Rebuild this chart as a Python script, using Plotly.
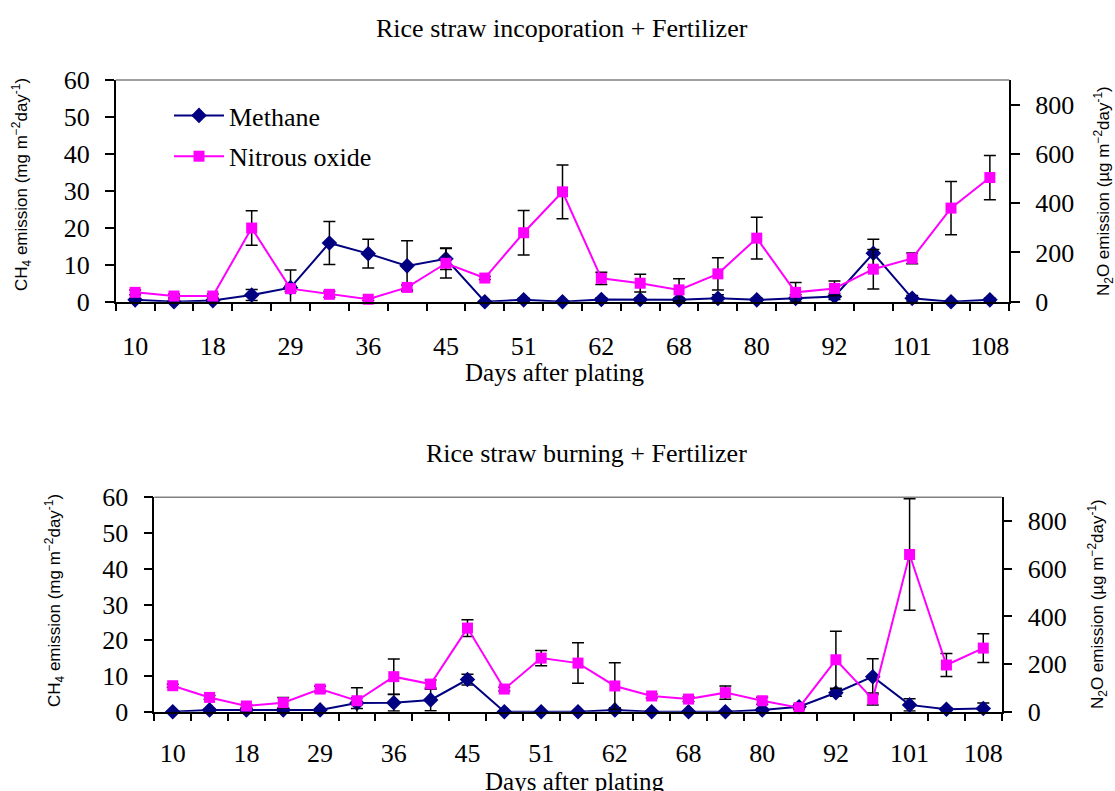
import plotly.graph_objects as go

# Sampling dates (days after planting); every other sampling is labelled on the axis
day_labels = ["10", "", "18", "", "29", "", "36", "", "45", "", "51", "",
              "62", "", "68", "", "80", "", "92", "", "101", "", "108"]

# Rice straw incorporation + fertilizer
inc_ch4 = [0.5, 0.0, 0.3, 1.8, 3.8, 15.9, 13.0, 9.7, 11.6, 0.0, 0.5, 0.0,
           0.6, 0.6, 0.5, 0.9, 0.5, 0.9, 1.4, 13.1, 0.9, 0.0, 0.5]
inc_ch4_err = [0.3, 0.2, 0.3, 1.5, 4.8, 5.8, 3.9, 6.8, 2.9, 0.2, 0.4, 0.2,
               0.4, 0.4, 0.4, 1.0, 0.4, 1.0, 0.8, 3.8, 0.8, 0.2, 0.4]
inc_n2o = [38, 23, 23, 299, 53, 30, 10, 58, 156, 96, 280, 446,
           95, 75, 48, 113, 258, 38, 54, 132, 176, 380, 504]
inc_n2o_err = [10, 8, 8, 70, 12, 12, 5, 10, 60, 6, 90, 109,
               25, 36, 45, 65, 85, 40, 30, 80, 22, 108, 90]

# Rice straw burning + fertilizer
burn_ch4 = [0.0, 0.5, 0.5, 0.5, 0.5, 2.4, 2.5, 3.3, 9.0, 0.0, 0.0, 0.0,
            0.5, 0.0, 0.0, 0.0, 0.5, 1.4, 5.3, 9.8, 1.9, 0.7, 0.9]
burn_ch4_err = [0.1, 0.3, 0.2, 0.3, 0.2, 1.5, 2.3, 3.0, 1.5, 0.1, 0.1, 0.1,
                0.6, 0.1, 0.1, 0.1, 0.4, 0.6, 1.0, 5.0, 1.7, 0.4, 1.5]
burn_n2o = [109, 60, 24, 38, 95, 46, 147, 116, 351, 95, 225, 204,
            108, 66, 53, 80, 46, 17, 218, 53, 660, 196, 267]
burn_n2o_err = [6, 8, 6, 22, 12, 55, 74, 17, 35, 8, 32, 85,
                98, 8, 10, 28, 15, 8, 120, 25, 234, 48, 60]

ch4_ticks = [0, 10, 20, 30, 40, 50, 60]
n2o_ticks = [0, 200, 400, 600, 800]

W, H = 1115, 791
x = list(range(len(day_labels)))
label_pos = [i for i, d in enumerate(day_labels) if d]
label_txt = [d for d in day_labels if d]
boundaries = [i - 0.5 for i in range(len(day_labels) + 1)]

SERIF = "Liberation Serif, Times New Roman, serif"
SANS = "Liberation Sans, Arial, sans-serif"
NAVY = "#000080"
MAGENTA = "#FF00FF"


def px(v):
    return v / W


def py(v):
    return 1 - v / H


def err(arr):
    return dict(type="data", array=arr, visible=True, color="black",
                thickness=1.5, width=6)


fig = go.Figure()

panels = [
    (inc_ch4, inc_ch4_err, inc_n2o, inc_n2o_err, "x", "y", "y2", True),
    (burn_ch4, burn_ch4_err, burn_n2o, burn_n2o_err, "x2", "y3", "y4", False),
]
for ch4, ch4e, n2o, n2oe, xa, ya, ya2, legend in panels:
    fig.add_trace(go.Scatter(
        x=x, y=ch4, error_y=err(ch4e), xaxis=xa, yaxis=ya,
        mode="lines+markers", name="Methane", showlegend=legend,
        legendgroup="ch4",
        line=dict(color=NAVY, width=2),
        marker=dict(symbol="diamond", size=12, color=NAVY),
        cliponaxis=False))
    fig.add_trace(go.Scatter(
        x=x, y=n2o, error_y=err(n2oe), xaxis=xa, yaxis=ya2,
        mode="lines+markers", name="Nitrous oxide", showlegend=legend,
        legendgroup="n2o",
        line=dict(color=MAGENTA, width=2),
        marker=dict(symbol="square", size=11, color=MAGENTA),
        cliponaxis=False))

tickfont = dict(family=SERIF, size=26, color="black")


def xaxis_cfg(domain, anchor, standoff):
    return dict(domain=domain, anchor=anchor, range=[-0.5, len(day_labels) - 0.5],
                tickmode="array", tickvals=label_pos, ticktext=label_txt,
                ticks="", ticklabelstandoff=standoff, tickfont=tickfont,
                minor=dict(tickmode="array", tickvals=boundaries, ticks="outside",
                           ticklen=8, tickwidth=1.5, tickcolor="black"),
                showline=True, linecolor="black", linewidth=1.5,
                showgrid=False, zeroline=False, automargin=False, fixedrange=True)


def left_cfg(domain, anchor):
    return dict(domain=domain, anchor=anchor, range=[0, 60],
                tickmode="array", tickvals=ch4_ticks, ticks="outside", ticklen=9,
                tickwidth=1.5, tickcolor="black", ticklabelstandoff=10,
                tickfont=tickfont, showline=True, linecolor="black", linewidth=1.5,
                showgrid=False, zeroline=False, automargin=False)


def right_cfg(anchor, over):
    return dict(anchor=anchor, overlaying=over, side="right", range=[0, 900],
                tickmode="array", tickvals=n2o_ticks, ticks="outside", ticklen=9,
                tickwidth=1.5, tickcolor="black", ticklabelstandoff=10,
                tickfont=tickfont, showline=True, linecolor="black", linewidth=1.5,
                showgrid=False, zeroline=False, automargin=False)


def right_inner_cfg(anchor, over):
    return dict(anchor=anchor, overlaying=over, side="right", range=[0, 900],
                tickmode="array", tickvals=n2o_ticks, ticks="inside", ticklen=9,
                tickwidth=1.5, tickcolor="black", showticklabels=False,
                showline=False, showgrid=False, zeroline=False, automargin=False)


top_x = [px(115.7), px(1009.3)]
top_y = [py(301.7), py(80)]
bot_x = [px(154.3), px(1001.7)]
bot_y = [py(711.7), py(497.3)]

fig.update_layout(
    width=W, height=H, margin=dict(l=0, r=0, t=0, b=0),
    paper_bgcolor="white", plot_bgcolor="white",
    xaxis=xaxis_cfg(top_x, "y", 20),
    yaxis=left_cfg(top_y, "x"),
    yaxis2=right_cfg("x", "y"),
    yaxis5=right_inner_cfg("x", "y"),
    xaxis2=xaxis_cfg(bot_x, "y3", 17),
    yaxis3=left_cfg(bot_y, "x2"),
    yaxis4=right_cfg("x2", "y3"),
    yaxis6=right_inner_cfg("x2", "y3"),
    legend=dict(x=px(169), y=py(92), xanchor="left", yanchor="top",
                font=dict(family=SERIF, size=26, color="black"),
                bgcolor="rgba(0,0,0,0)", itemwidth=50, tracegroupgap=4),
    showlegend=True,
)

# grey top border of each plot area
for xr, yr in [("x domain", "y domain"), ("x2 domain", "y3 domain")]:
    fig.add_shape(type="line", xref=xr, yref=yr, x0=0, x1=1, y0=1, y1=1,
                  line=dict(color="#808080", width=1.5))

ch4_title = "CH<sub>4</sub> emission (mg m<sup>\u22122</sup>day<sup>-1</sup>)"
n2o_title = "N<sub>2</sub>O emission (\u00b5g m<sup>\u22122</sup>day<sup>-1</sup>)"

texts = [
    ("Rice straw incoporation + Fertilizer", 562, 29, SERIF, 26, 0),
    ("Days after plating", 555, 373, SERIF, 25, 0),
    ("Rice straw burning + Fertilizer", 586, 453, SERIF, 26, 0),
    ("Days after plating", 575, 781, SERIF, 25, 0),
    (ch4_title, 22, 185, SANS, 17, -90),
    (n2o_title, 1103, 191, SANS, 17, -90),
    (ch4_title, 54, 601, SANS, 17, -90),
    (n2o_title, 1097, 604, SANS, 17, -90),
]
for txt, tx, ty, fam, size, ang in texts:
    fig.add_annotation(text=txt, x=px(tx), y=py(ty), xref="paper", yref="paper",
                       xanchor="center", yanchor="middle", showarrow=False,
                       textangle=ang, font=dict(family=fam, size=size, color="black"))

fig.write_html("out.html")
